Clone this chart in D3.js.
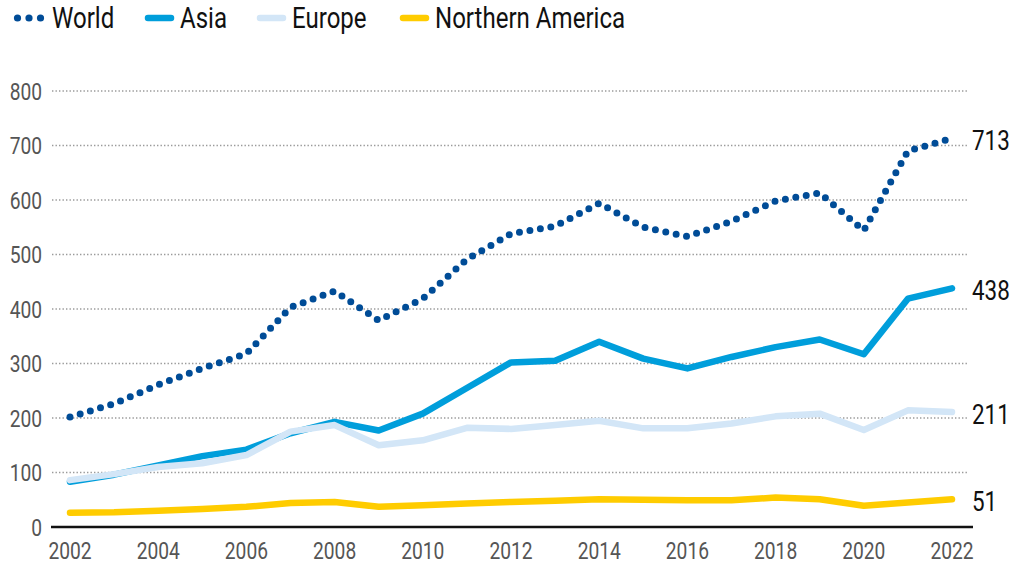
<!DOCTYPE html>
<html>
<head>
<script src="https://d3js.org/d3.v7.min.js"></script>
<style>
  body { margin: 0; background: #fff; }
  text { font-family: Roboto, "Liberation Sans", sans-serif; }
</style>
</head>
<body>
<svg width="1019" height="567"></svg>
<script>
var years = d3.range(2002, 2023);
var world  = [202, 226, 261, 291, 318, 403, 433, 379, 419, 491, 538, 552, 594, 550, 533, 561, 598, 613, 544, 690, 713];
var asia   = [83, 96, 113, 130, 142, 172, 193, 177, 208, 255, 302, 305, 340, 309, 291, 312, 330, 344, 317, 419, 438];
var europe = [86, 97, 110, 117, 132, 175, 187, 150, 159, 182, 180, 187, 195, 181, 181, 190, 203, 208, 178, 214, 211];
var namer  = [26, 27, 30, 33, 37, 44, 46, 37, 40, 43, 46, 48, 51, 50, 49, 49, 54, 51, 39, 45, 51];
var yTicks = [0, 100, 200, 300, 400, 500, 600, 700, 800];
var xTicks = d3.range(2002, 2023, 2);

var series = [
  { name: "Asia", values: asia, color: "#009edb", dotted: false },
  { name: "Europe", values: europe, color: "#d3e6f7", dotted: false },
  { name: "Northern America", values: namer, color: "#ffcc00", dotted: false },
  { name: "World", values: world, color: "#004c97", dotted: true }
];
var legendOrder = ["World", "Asia", "Europe", "Northern America"];

var svg = d3.select("svg");
var x = d3.scaleLinear().domain([2002, 2022]).range([70, 952]);
var y = d3.scaleLinear().domain([0, 800]).range([527, 91]);

// condensed-looking text: scale horizontally around the anchor point
function label(parent, tx, ty, str, size, anchor, fill, sx) {
  return parent.append("text")
    .attr("transform", "translate(" + tx + "," + ty + ") scale(" + (sx || 0.8) + ",1)")
    .attr("text-anchor", anchor)
    .attr("font-size", size)
    .attr("fill", fill)
    .text(str);
}

// gridlines
svg.append("g").selectAll("line")
  .data(yTicks.filter(function(d) { return d > 0; }))
  .enter().append("line")
  .attr("x1", 52).attr("x2", 968)
  .attr("y1", function(d) { return y(d); })
  .attr("y2", function(d) { return y(d); })
  .attr("stroke", "#9a9a9a")
  .attr("stroke-width", 1.4)
  .attr("stroke-dasharray", "1.4 2.1");

var gy = svg.append("g");
yTicks.forEach(function(d) {
  label(gy, 42, y(d) + 8.5, d, 24, "end", "#555");
});

var gx = svg.append("g");
xTicks.forEach(function(d) {
  label(gx, x(d), 559, d, 24, "middle", "#555");
});

// baseline
svg.append("line")
  .attr("x1", 51).attr("x2", 973)
  .attr("y1", y(0)).attr("y2", y(0))
  .attr("stroke", "#111").attr("stroke-width", 2.5);

var line = d3.line()
  .x(function(d, i) { return x(years[i]); })
  .y(function(d) { return y(d); });

series.forEach(function(s) {
  var p = svg.append("path")
    .datum(s.values)
    .attr("d", line)
    .attr("fill", "none")
    .attr("stroke", s.color)
    .attr("stroke-linejoin", "round")
    .attr("stroke-linecap", "round");
  if (s.dotted) {
    p.attr("stroke-width", 7).attr("stroke-dasharray", "0 10.6");
  } else {
    p.attr("stroke-width", 6.5);
  }
});

// end labels
series.forEach(function(s) {
  var v = s.values[s.values.length - 1];
  label(svg, 972, y(v) + 12, v, 28, "start", "#111");
});

// legend
var legendX = { "World": 14, "Asia": 145, "Europe": 257, "Northern America": 400 };
legendOrder.forEach(function(name) {
  var s = series.find(function(d) { return d.name === name; });
  var g = svg.append("g").attr("transform", "translate(" + legendX[name] + ",18)");
  if (s.dotted) {
    g.selectAll("circle").data([0, 1, 2]).enter().append("circle")
      .attr("cx", function(d) { return 3.5 + d * 11.5; })
      .attr("cy", 0).attr("r", 3.6).attr("fill", s.color);
    label(g, 38, 10, name, 29, "start", "#111", 0.83);
  } else {
    g.append("line").attr("x1", 3).attr("x2", 26)
      .attr("stroke", s.color).attr("stroke-width", 6.5).attr("stroke-linecap", "round");
    label(g, 35, 10, name, 29, "start", "#111", 0.83);
  }
});
</script>
</body>
</html>
